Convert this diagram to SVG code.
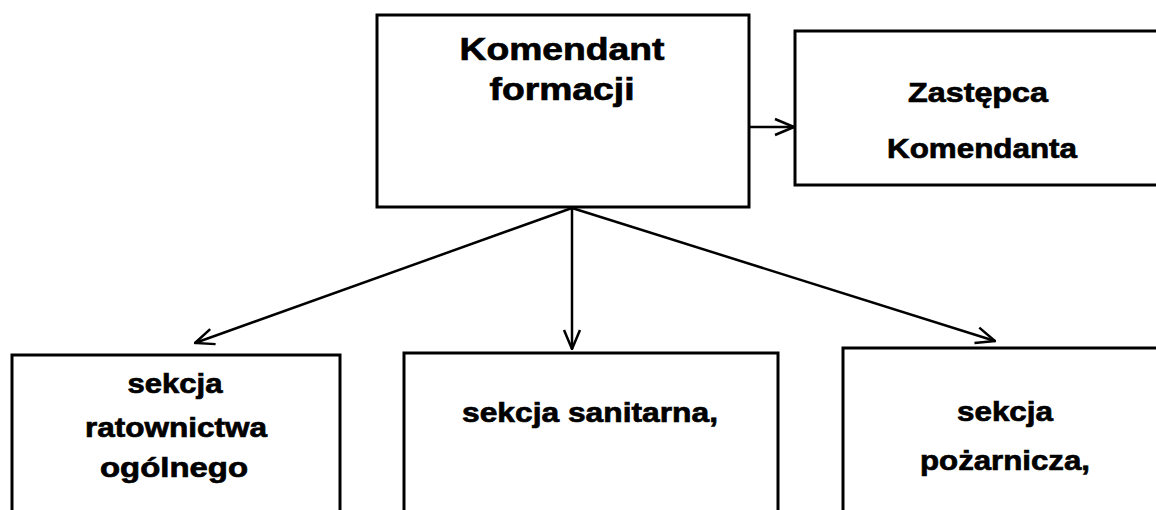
<svg xmlns="http://www.w3.org/2000/svg" width="1156" height="510" viewBox="0 0 1156 510">
  <style>
    .box { fill: #ffffff; stroke: #000000; stroke-width: 3; }
    .conn { fill: none; stroke: #000000; stroke-width: 2.5; }
    .t { font-family: "Liberation Sans", Arial, sans-serif; font-weight: bold; fill: #000000; stroke: #000000; stroke-width: 0.7; text-anchor: middle; }
    .big { font-size: 32px; }
    .mid { font-size: 28px; }
    .sm { font-size: 28px; }
  </style>
  <defs>
    <marker id="arrow" viewBox="0 0 22 22" refX="21" refY="11" markerWidth="22" markerHeight="22" markerUnits="userSpaceOnUse" orient="auto">
      <path d="M2,3 L21,11 L2,19" fill="none" stroke="#000000" stroke-width="2.5"/>
    </marker>
  </defs>
  <rect width="1156" height="510" fill="#ffffff"/>

  <g id="connectors">
    <line class="conn" x1="749" y1="127" x2="794" y2="127" stroke-width="3" marker-end="url(#arrow)"/>
    <line class="conn" x1="572" y1="208" x2="195" y2="343" marker-end="url(#arrow)"/>
    <line class="conn" x1="572" y1="208" x2="572" y2="349" marker-end="url(#arrow)"/>
    <line class="conn" x1="572" y1="208" x2="995" y2="341" marker-end="url(#arrow)"/>
  </g>

  <g id="komendant">
    <rect class="box" x="377" y="15" width="372" height="192"/>
    <text class="t big" x="562" y="60" textLength="205" lengthAdjust="spacingAndGlyphs">Komendant</text>
    <text class="t big" x="562" y="100" textLength="145" lengthAdjust="spacingAndGlyphs">formacji</text>
  </g>

  <g id="zastepca">
    <rect class="box" x="795" y="31" width="380" height="154"/>
    <text class="t mid" x="978" y="102" textLength="140" lengthAdjust="spacingAndGlyphs">Zastępca</text>
    <text class="t mid" x="982" y="158" textLength="190" lengthAdjust="spacingAndGlyphs">Komendanta</text>
  </g>

  <g id="sekcja-ratownictwa">
    <rect class="box" x="12" y="355" width="328" height="200"/>
    <text class="t sm" x="175" y="393" textLength="95" lengthAdjust="spacingAndGlyphs">sekcja</text>
    <text class="t sm" x="176" y="437" textLength="182" lengthAdjust="spacingAndGlyphs">ratownictwa</text>
    <text class="t sm" x="174" y="477" textLength="148" lengthAdjust="spacingAndGlyphs">ogólnego</text>
  </g>

  <g id="sekcja-sanitarna">
    <rect class="box" x="404" y="353" width="374" height="200"/>
    <text class="t sm" x="590" y="422" textLength="256" lengthAdjust="spacingAndGlyphs">sekcja sanitarna,</text>
  </g>

  <g id="sekcja-pozarnicza">
    <rect class="box" x="843" y="348" width="340" height="200"/>
    <text class="t sm" x="1005" y="421" textLength="96" lengthAdjust="spacingAndGlyphs">sekcja</text>
    <text class="t sm" x="1005" y="470" textLength="170" lengthAdjust="spacingAndGlyphs">pożarnicza,</text>
  </g>
</svg>
